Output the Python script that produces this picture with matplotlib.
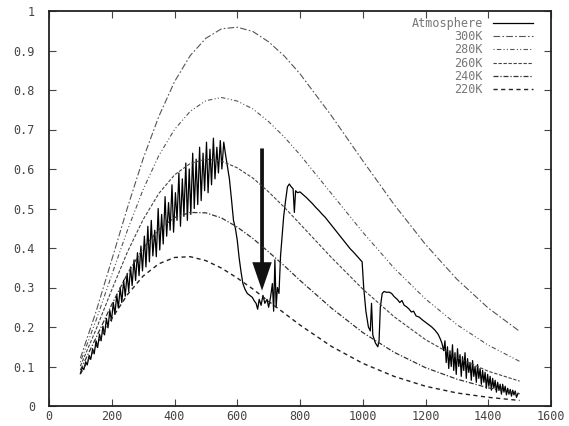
import matplotlib
matplotlib.use('Agg')
import matplotlib.pyplot as plt

# wavenumber grid of the blackbody curves, cm^-1
WAVENUMBERS = [100, 150, 200, 250, 300, 350, 400, 450, 500, 550, 600, 650, 700, 750, 800,
               900, 1000, 1100, 1200, 1300, 1400, 1500]

T300 = [0.121, 0.239, 0.370, 0.502, 0.626, 0.733, 0.821, 0.887, 0.931, 0.955, 0.959, 0.948, 0.922, 0.886,
        0.841, 0.735, 0.621, 0.510, 0.409, 0.321, 0.248, 0.189]
T280 = [0.111, 0.217, 0.332, 0.445, 0.548, 0.634, 0.700, 0.746, 0.773, 0.781, 0.772, 0.752, 0.720, 0.681,
        0.636, 0.538, 0.440, 0.349, 0.271, 0.206, 0.154, 0.113]
T260 = [0.101, 0.194, 0.294, 0.390, 0.472, 0.538, 0.585, 0.614, 0.625, 0.620, 0.603, 0.577, 0.542, 0.503,
        0.461, 0.376, 0.296, 0.226, 0.168, 0.123, 0.088, 0.063]
T240 = [0.091, 0.173, 0.257, 0.335, 0.399, 0.447, 0.477, 0.490, 0.489, 0.476, 0.453, 0.424, 0.390, 0.355,
        0.318, 0.248, 0.186, 0.136, 0.097, 0.068, 0.046, 0.031]
T220 = [0.081, 0.151, 0.221, 0.282, 0.329, 0.360, 0.376, 0.378, 0.368, 0.349, 0.324, 0.296, 0.265, 0.235,
        0.205, 0.151, 0.108, 0.075, 0.050, 0.033, 0.022, 0.014]

ATM_NU = [100, 106, 111, 117, 122, 128, 133, 139, 144, 150, 155, 161, 166, 172, 177, 183, 188, 194, 199,
          205, 210, 216, 221, 227, 232, 238, 243, 249, 254, 260, 265, 271, 276, 282, 287, 293, 298,
          304, 309, 315, 320, 326, 331, 337, 342, 348, 353, 359, 364, 370, 375, 381, 386, 392, 397,
          403, 408, 414, 419, 425, 430, 436, 441, 447, 452, 458, 463, 469, 474, 480, 485, 491, 496,
          502, 507, 513, 518, 524, 529, 535, 540, 546, 551, 557, 562, 568, 575, 582, 588, 594, 600,
          606, 612, 618, 625, 632, 640, 648, 655, 660, 665, 670, 676, 682, 688, 695, 700, 706, 712,
          716, 720, 724, 728, 733, 738, 742, 748, 754, 760, 766, 772, 778, 782, 786, 792, 800, 810,
          820, 830, 840, 850, 860, 870, 880, 890, 900, 910, 920, 930, 940, 950, 960, 970, 980, 990,
          998, 1003, 1010, 1018, 1024, 1028, 1032, 1040, 1048, 1052, 1056, 1062, 1068, 1075, 1085,
          1092, 1100, 1110, 1118, 1125, 1132, 1140, 1148, 1155, 1162, 1170, 1180, 1190, 1200, 1210,
          1220, 1230, 1240, 1246, 1252, 1258, 1262, 1266, 1270, 1274, 1278, 1282, 1286, 1290, 1294,
          1298, 1302, 1306, 1310, 1314, 1318, 1322, 1326, 1330, 1334, 1338, 1342, 1346, 1350, 1354,
          1358, 1362, 1366, 1370, 1374, 1378, 1382, 1386, 1390, 1394, 1398, 1402, 1406, 1410, 1414,
          1418, 1422, 1426, 1430, 1434, 1438, 1442, 1446, 1450, 1454, 1458, 1462, 1466, 1470, 1474,
          1478, 1482, 1486, 1490, 1495]
ATM_VAL = [0.082, 0.098, 0.092, 0.112, 0.104, 0.128, 0.118, 0.145, 0.132, 0.165, 0.148, 0.182, 0.165,
           0.202, 0.180, 0.222, 0.198, 0.242, 0.215, 0.262, 0.232, 0.282, 0.248, 0.300, 0.262, 0.318,
           0.278, 0.335, 0.290, 0.352, 0.305, 0.370, 0.318, 0.388, 0.330, 0.405, 0.342,
           0.430, 0.352, 0.455, 0.365, 0.470, 0.380, 0.445, 0.378, 0.500, 0.395, 0.485, 0.410, 0.530,
           0.430, 0.515, 0.445, 0.560, 0.440, 0.540, 0.470, 0.590, 0.455, 0.575, 0.480, 0.615, 0.470,
           0.600, 0.485, 0.640, 0.500, 0.625, 0.510, 0.655, 0.520, 0.640, 0.545, 0.668, 0.540, 0.650,
           0.560, 0.678, 0.575, 0.655, 0.590, 0.672, 0.600, 0.668, 0.640, 0.610, 0.575, 0.520, 0.470,
           0.450, 0.420, 0.375, 0.340, 0.310, 0.295, 0.285, 0.280, 0.275, 0.265, 0.260, 0.245, 0.270,
           0.255, 0.280, 0.260, 0.270, 0.250, 0.275, 0.310, 0.240, 0.370, 0.250, 0.300, 0.285, 0.380,
           0.420, 0.480, 0.520, 0.555, 0.562, 0.555, 0.550, 0.490, 0.545, 0.540, 0.542, 0.535, 0.528,
           0.520, 0.512, 0.503, 0.495, 0.486, 0.478, 0.468, 0.458, 0.448, 0.438, 0.428, 0.418, 0.408,
           0.398, 0.390, 0.381, 0.372, 0.365, 0.300, 0.240, 0.200, 0.190, 0.260, 0.180, 0.160, 0.150,
           0.165, 0.250, 0.285, 0.290, 0.288, 0.288, 0.285, 0.277, 0.270, 0.262, 0.267, 0.255, 0.251,
           0.245, 0.238, 0.240, 0.228, 0.225, 0.218, 0.212, 0.206, 0.200, 0.192, 0.182, 0.172, 0.160,
           0.140, 0.165, 0.110, 0.150, 0.095, 0.140, 0.100, 0.155, 0.090, 0.135, 0.080, 0.145, 0.100,
           0.130, 0.075, 0.125, 0.090, 0.135, 0.070, 0.120, 0.085, 0.110, 0.065, 0.115, 0.075, 0.100,
           0.060, 0.105, 0.070, 0.095, 0.055, 0.090, 0.060, 0.085, 0.045, 0.080, 0.050, 0.075, 0.040,
           0.070, 0.045, 0.065, 0.035, 0.060, 0.040, 0.055, 0.030, 0.055, 0.035, 0.050, 0.028, 0.045,
           0.030, 0.042, 0.025, 0.040, 0.028, 0.038, 0.022, 0.032]

X_TICKS = [0, 200, 400, 600, 800, 1000, 1200, 1400, 1600]
Y_TICKS = [0, 0.1, 0.2, 0.3, 0.4, 0.5, 0.6, 0.7, 0.8, 0.9, 1]
Y_TICK_LABELS = ['0', '0.1', '0.2', '0.3', '0.4', '0.5', '0.6', '0.7', '0.8', '0.9', '1']

TICK_FONT = dict(family='DejaVu Sans Mono', size=8.5, color='#777777')


def draw():
    fig = plt.figure(figsize=(5.69, 4.26), dpi=100)
    ax = fig.add_axes([49 / 569, 20 / 426, 502 / 569, 395 / 426])

    ax.plot(ATM_NU, ATM_VAL, color='black', lw=0.9, label='Atmosphere')
    ax.plot(WAVENUMBERS, T300, color='#555555', lw=0.8, ls=(0, (6, 2, 1.5, 2)), label='300K')
    ax.plot(WAVENUMBERS, T280, color='#555555', lw=0.8, ls=(0, (1, 2, 4, 2, 1, 2)), label='280K')
    ax.plot(WAVENUMBERS, T260, color='#444444', lw=0.8, ls=(0, (3, 1.5)), label='260K')
    ax.plot(WAVENUMBERS, T240, color='#333333', lw=0.9, ls=(0, (4, 1.5, 1, 1.5)), label='240K')
    ax.plot(WAVENUMBERS, T220, color='#222222', lw=1.0, ls=(0, (3, 2.5)), label='220K')

    # the big arrow in the CO2 band
    ax.arrow(679, 0.652, 0, -0.36, width=12, head_width=62, head_length=0.072,
             length_includes_head=True, color='#111111', lw=0)

    ax.set_xlim(0, 1600)
    ax.set_ylim(0, 1)
    ax.set_xticks(X_TICKS)
    ax.set_xticklabels([str(t) for t in X_TICKS], **TICK_FONT)
    ax.set_yticks(Y_TICKS)
    ax.set_yticklabels(Y_TICK_LABELS, **TICK_FONT)
    ax.tick_params(direction='in', length=5, width=0.8, top=True, right=True,
                   labeltop=False, labelright=False, colors='#444444')
    ax.tick_params(axis='x', pad=3)
    ax.tick_params(axis='y', pad=10)
    for side in ax.spines.values():
        side.set_linewidth(1.3)
        side.set_color('#222222')

    leg = ax.legend(loc='upper right', bbox_to_anchor=(533 / 569, 1 - 17 / 426),
                    bbox_transform=fig.transFigure, frameon=False, markerfirst=False,
                    prop=dict(family='DejaVu Sans Mono', size=8.5), handlelength=3.4,
                    labelspacing=0.02, borderaxespad=0, borderpad=0, handletextpad=0.85)
    for txt in leg.get_texts():
        txt.set_color('#777777')

    fig.savefig('out.png', dpi=100, facecolor='white')


if __name__ == "__main__":
    draw()
